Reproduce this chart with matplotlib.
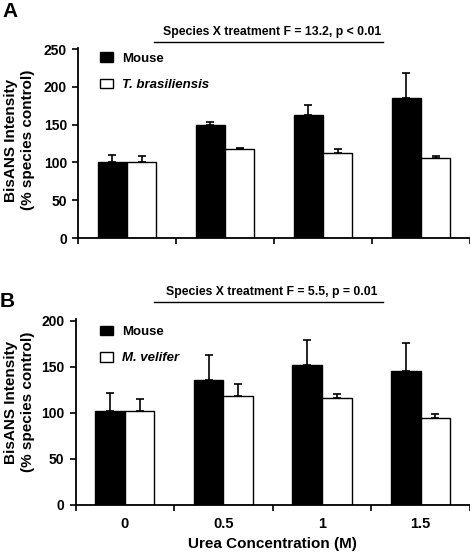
import numpy as np
import matplotlib
matplotlib.use('Agg')
import matplotlib.pyplot as plt
from matplotlib.lines import Line2D

plt.rcParams['font.family'] = ['Liberation Sans', 'DejaVu Sans']
plt.rcParams['font.weight'] = 'bold'
plt.rcParams['axes.labelweight'] = 'bold'
plt.rcParams['axes.linewidth'] = 1.3

# data
urea = ['0', '0.5', '1', '1.5']
mouse_a = [100, 149, 163, 186]
mouse_a_err = [10, 4, 13, 32]
tbras = [100, 118, 113, 106]
tbras_err = [9, 1, 5, 3]
mouse_b = [102, 135, 152, 145]
mouse_b_err = [19, 28, 27, 31]
mvel = [102, 118, 116, 94]
mvel_err = [13, 13, 4, 4]

W, H = 470, 554
fig = plt.figure(figsize=(W / 100, H / 100), dpi=100)


def px_axes(left, top, right, bottom):
    return fig.add_axes([left / W, 1 - bottom / H, (right - left) / W, (bottom - top) / H])


def draw_panel(ax, m, m_err, o, o_err, other_name, ymax, show_xlabels, leg_xy):
    x = np.arange(len(urea))
    w = 0.3
    zeros = np.zeros(len(urea))
    b1 = ax.bar(x - w / 2, m, w, color='black', edgecolor='black', linewidth=1,
                yerr=[zeros, m_err], capsize=3,
                error_kw=dict(ecolor='black', elinewidth=1.2, capthick=1.2), label='Mouse')
    b2 = ax.bar(x + w / 2, o, w, color='white', edgecolor='black', linewidth=1,
                yerr=[zeros, o_err], capsize=3,
                error_kw=dict(ecolor='black', elinewidth=1.2, capthick=1.2), label=other_name)
    ax.set_xlim(-0.5, 3.5)
    ax.set_ylim(0, ymax)
    ax.set_yticks(np.arange(0, ymax + 1, 50))
    ax.spines['top'].set_visible(False)
    ax.spines['right'].set_visible(False)
    ax.spines['left'].set_bounds(0, ymax * 1.008)
    ax.set_xticks([-0.5, 0.5, 1.5, 2.5, 3.5])
    ax.set_xticklabels([])
    ax.tick_params(axis='both', which='major', direction='out', length=4, width=1.2,
                   labelsize=10, pad=4)
    if show_xlabels:
        ax.set_xticks(x, minor=True)
        ax.set_xticklabels(urea, minor=True, fontsize=10.5, fontweight='bold')
        ax.tick_params(axis='x', which='minor', length=0, pad=9)
    for lab in ax.get_yticklabels():
        lab.set_fontweight('bold')
    leg = ax.legend(handles=[b1, b2], loc='upper left', bbox_to_anchor=leg_xy,
                    frameon=False, fontsize=9.5, handlelength=1.0, handleheight=0.75,
                    handletextpad=0.7, labelspacing=1.05, borderaxespad=0, borderpad=0)
    leg.get_texts()[1].set_style('italic')
    ax.set_ylabel('BisANS Intensity\n(% species control)', fontsize=11,
                  linespacing=1.25, va='center')


# panel A
ax_a = px_axes(78, 47.7, 470, 238)
draw_panel(ax_a, mouse_a, mouse_a_err, tbras, tbras_err, 'T. brasiliensis', 250, False,
           (0.056, 0.975))
ax_a.spines['left'].set_bounds(0, 252)
ax_a.set_ylim(0, 252)
ax_a.yaxis.set_label_coords(-0.149, 0.515)

# panel B
ax_b = px_axes(75.5, 318.7, 470, 504.7)
draw_panel(ax_b, mouse_b, mouse_b_err, mvel, mvel_err, 'M. velifer', 200, True,
           (0.062, 0.963))
ax_b.set_ylim(0, 202)
ax_b.yaxis.set_label_coords(-0.142, 0.552)
ax_b.set_xlabel('Urea Concentration (M)', fontsize=11, va='center')
ax_b.xaxis.set_label_coords(0.5, -(543.7 - 504.7) / 186)

# panel letters
fig.text(2 / W, 1 - 2 / H, 'A', fontsize=15, fontweight='bold', va='top', ha='left')
fig.text(0 / W, 1 - 292 / H, 'B', fontsize=15, fontweight='bold', va='top', ha='left')

# interaction annotations
for txt, ty, ly in [('Species X treatment F = 13.2, p < 0.01', 31.7, 41.7),
                    ('Species X treatment F = 5.5, p = 0.01', 292, 302)]:
    fig.text(272 / W, 1 - ty / H, txt, fontsize=8.8, fontweight='bold', ha='center', va='center')
    fig.add_artist(Line2D([154 / W, 383 / W], [1 - ly / H, 1 - ly / H],
                          transform=fig.transFigure, color='black', linewidth=1))

fig.savefig('out.png', dpi=100)
